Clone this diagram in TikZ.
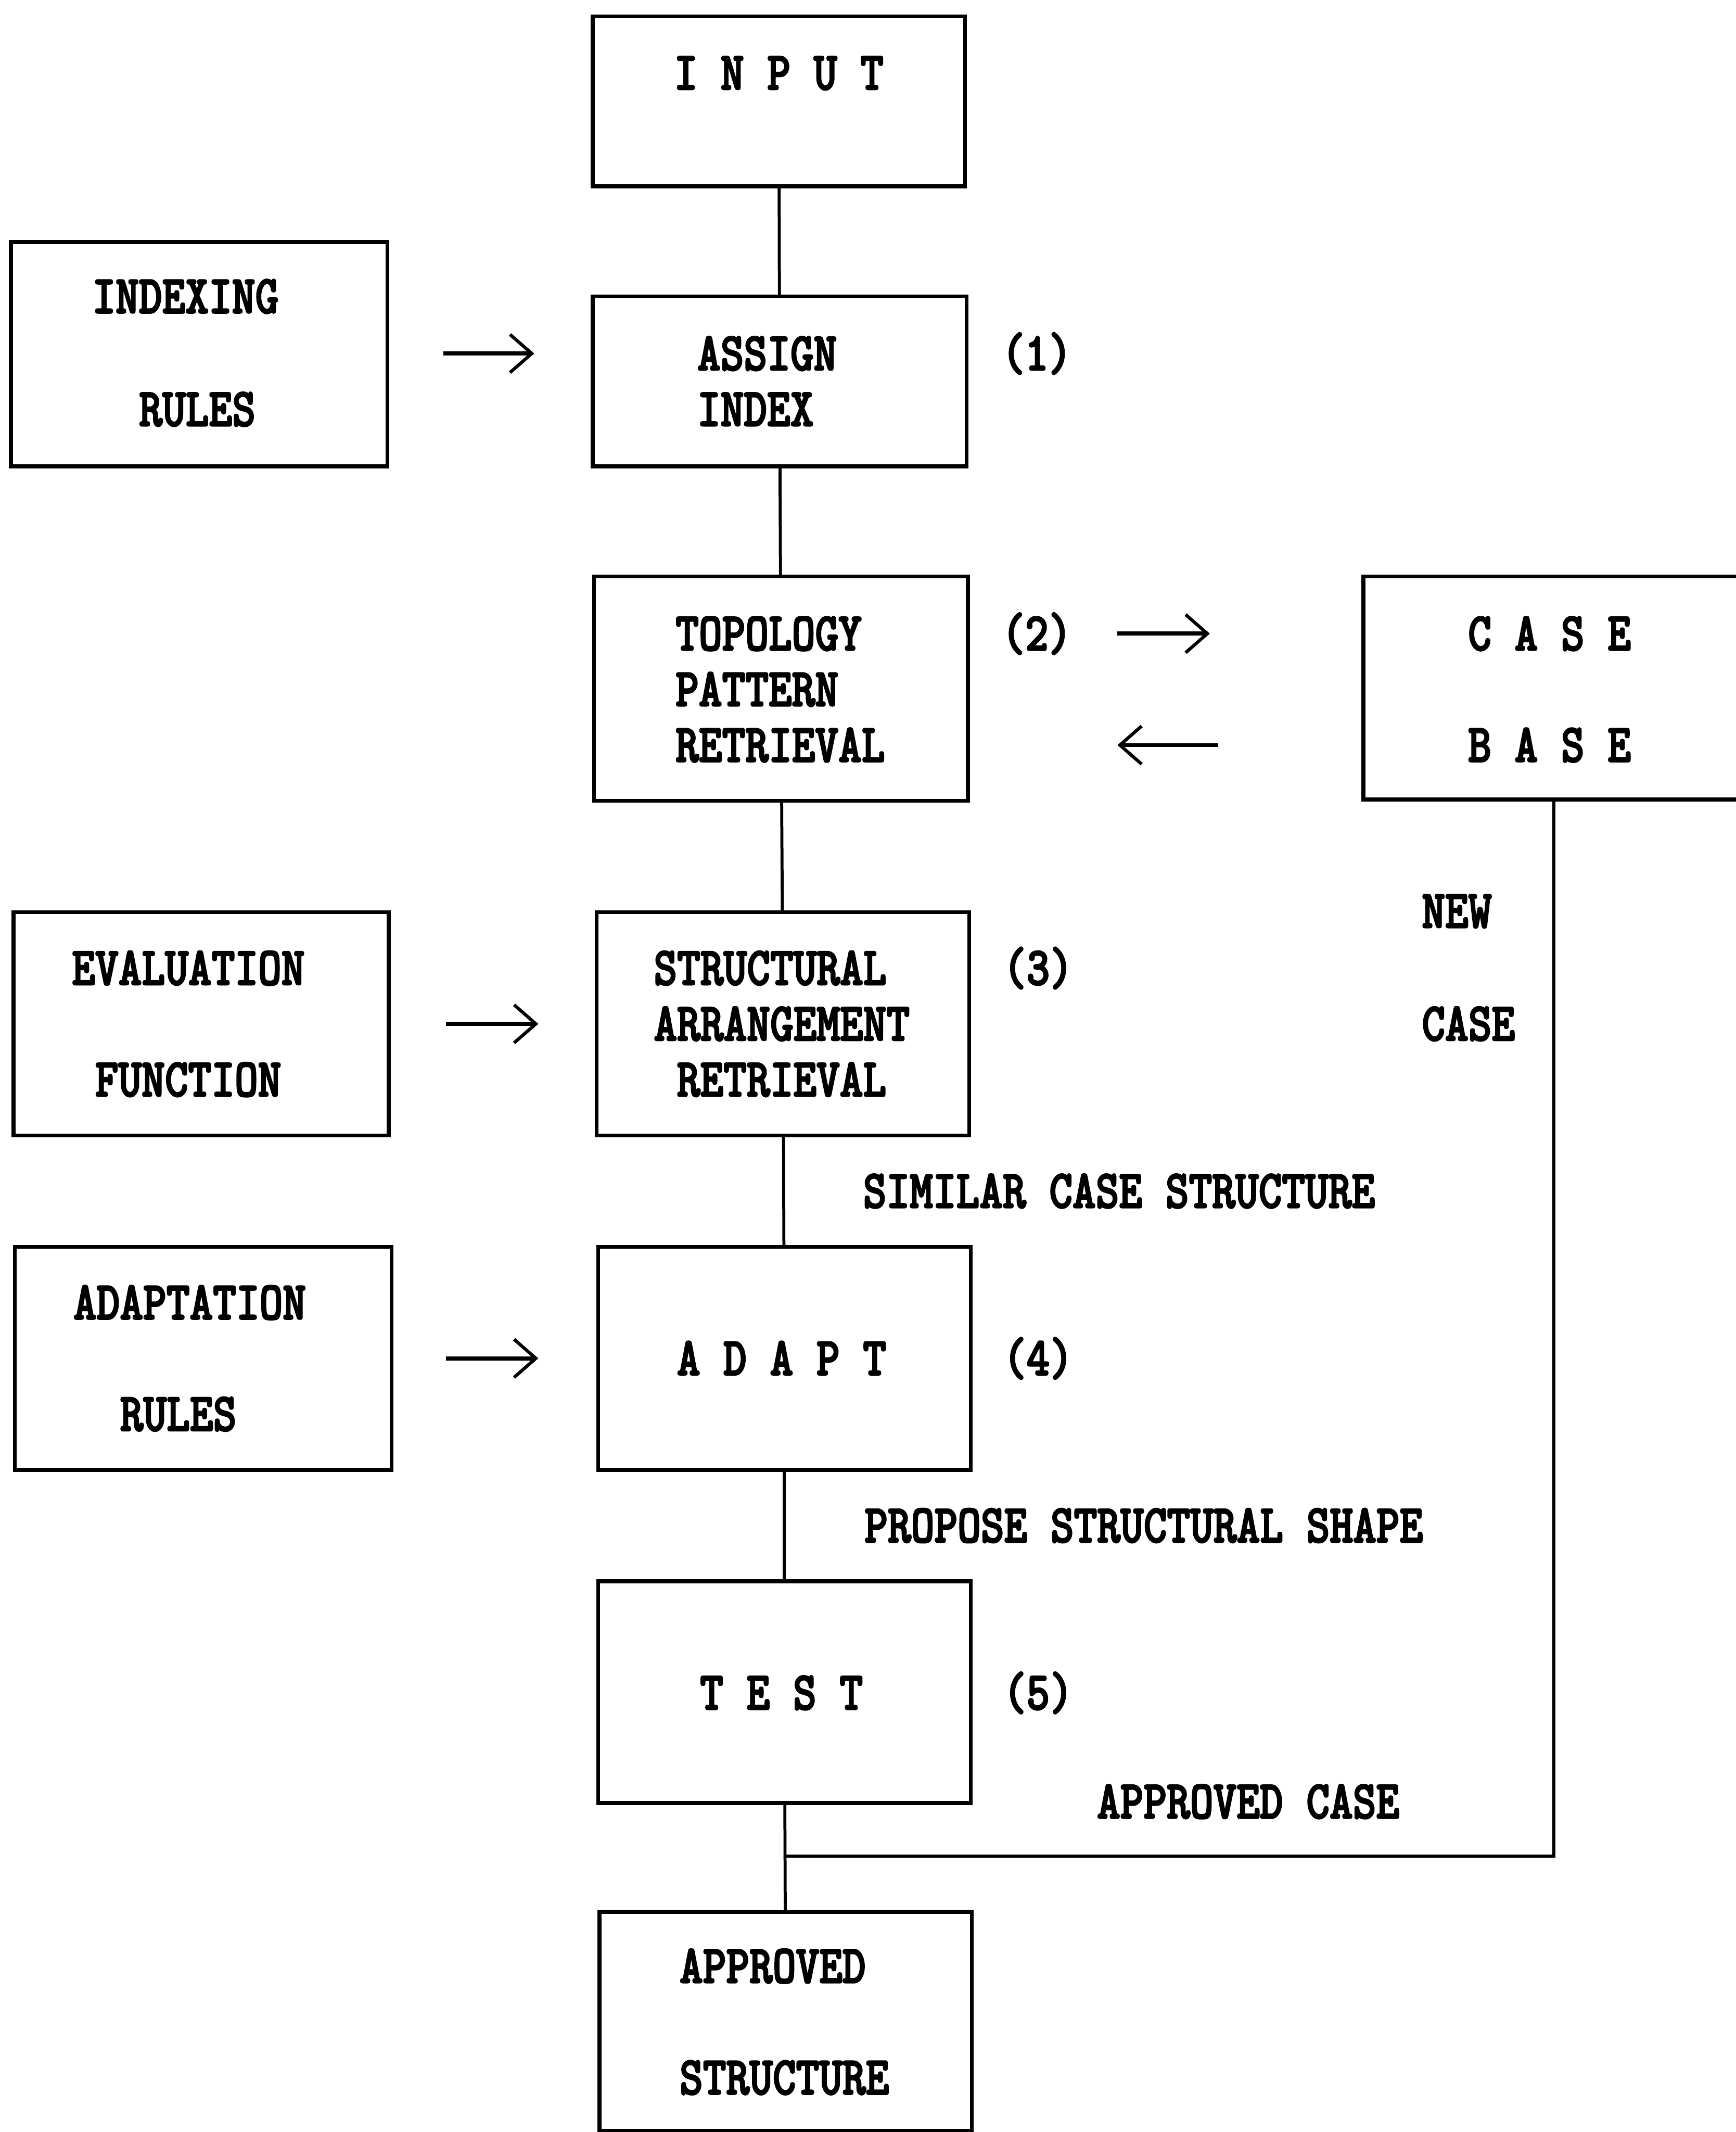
\documentclass[tikz,border=0pt]{standalone}
\usepackage{fontspec}
\newfontfamily\figmono{lmmonolt10-bold.otf}[FakeStretch=0.815, FakeBold=2.5]
\usetikzlibrary{arrows.meta}
\begin{document}
\begin{tikzpicture}[x=1pt, y=-1pt,
  box/.style={draw, line width=2.8pt, inner sep=0pt, outer sep=0pt},
  wire/.style={line width=2.2pt},
  feed/.style={line width=3pt, -{Straight Barb[length=16pt,width=28pt,line width=2.4pt]}},
  txt/.style={inner sep=0pt, outer sep=0pt, anchor=west, text height=24.5pt, text depth=0pt,
    font=\figmono\fontsize{40}{44}\selectfont},
]
\useasboundingbox (0,0) rectangle (1277,1568);

% main column of process boxes
\node[box, minimum width=274pt, minimum height=125pt] (inp)  at (573,74.5) {};
\node[box, minimum width=275pt, minimum height=125pt] (asg)  at (573.5,280.5) {};
\node[box, minimum width=275pt, minimum height=165pt] (topo) at (574.5,506.5) {};
\node[box, minimum width=274pt, minimum height=164pt] (sar)  at (576,753) {};
\node[box, minimum width=274pt, minimum height=164pt] (adp)  at (577,999) {};
\node[box, minimum width=274pt, minimum height=163pt] (tst)  at (577,1244.5) {};
\node[box, minimum width=274pt, minimum height=161pt] (apr)  at (578,1486.5) {};

% knowledge sources on the left
\node[box, minimum width=277pt, minimum height=165pt] (idx) at (146.5,260.5) {};
\node[box, minimum width=276pt, minimum height=164pt] (evf) at (148,753) {};
\node[box, minimum width=277pt, minimum height=164pt] (adr) at (149.5,999) {};

% case base, open towards the right margin
\node[inner sep=0pt, outer sep=0pt, minimum width=274pt, minimum height=164pt] (cb) at (1140,506) {};
\draw[line width=2.8pt] (cb.north east) -- (cb.north west) -- (cb.south west) -- (cb.south east);

% box texts
\node[txt] (t-inp) at (496,53.6) {I N P U T};
\node[txt] (t-asg1) at (513,260) {ASSIGN};
\node[txt] (t-asg2) at (513,301) {INDEX};
\node[txt] (t-idx1) at (68,218) {INDEXING};
\node[txt] (t-idx2) at (102.4,301) {RULES};
\node[txt] (t-top1) at (497,466) {TOPOLOGY};
\node[txt] (t-top2) at (497,507) {PATTERN};
\node[txt] (t-top3) at (497,548) {RETRIEVAL};
\node[txt] (t-cb1) at (1080,466) {C A S E};
\node[txt] (t-cb2) at (1080,548) {B A S E};
\node[txt] (t-evf1) at (53,712) {EVALUATION};
\node[txt] (t-evf2) at (70,794) {FUNCTION};
\node[txt] (t-sar1) at (481,712) {STRUCTURAL};
\node[txt] (t-sar2) at (481,753) {ARRANGEMENT};
\node[txt] (t-sar3) at (498,794) {RETRIEVAL};
\node[txt] (t-adr1) at (54,958) {ADAPTATION};
\node[txt] (t-adr2) at (88.4,1040) {RULES};
\node[txt] (t-adp) at (498,999) {A D A P T};
\node[txt] (t-tst) at (515,1245) {T E S T};
\node[txt] (t-apr1) at (500,1446) {APPROVED};
\node[txt] (t-apr2) at (500,1528) {STRUCTURE};

% step numbers
\node[txt] (n1) at (737,260) {(1)};
\node[txt] (n2) at (737,466) {(2)};
\node[txt] (n3) at (738,712) {(3)};
\node[txt] (n4) at (738,999) {(4)};
\node[txt] (n5) at (738,1245) {(5)};

% flow labels
\node[txt] (l-sim) at (635,876) {SIMILAR CASE STRUCTURE};
\node[txt] (l-pro) at (636,1122) {PROPOSE STRUCTURAL SHAPE};
\node[txt] (l-app) at (807,1325) {APPROVED CASE};
\node[txt] (l-new1) at (1046,670) {NEW};
\node[txt] (l-new2) at (1046,753) {CASE};

% vertical flow
\draw[wire] (inp) -- (asg);
\draw[wire] (asg) -- (topo);
\draw[wire] (topo) -- (sar);
\draw[wire] (sar) -- (adp);
\draw[wire] (adp) -- (tst);
\draw[wire] (tst) -- (apr);

% approved case fed back into the case base
\coordinate (jn) at (578,1365);
\coordinate (fbx) at (1143,0);
\draw[wire] (cb.south -| fbx) |- (jn);

% input arrows
\coordinate (a1s) at (326,260);  \coordinate (a1e) at (393,260);
\coordinate (a2s) at (822,466);  \coordinate (a2e) at (890,466);
\coordinate (a3s) at (896,548);  \coordinate (a3e) at (822,548);
\coordinate (a4s) at (328,753);  \coordinate (a4e) at (396,753);
\coordinate (a5s) at (328,999);  \coordinate (a5e) at (396,999);
\draw[feed] (a1s) -- (a1e);
\draw[feed] (a2s) -- (a2e);
\draw[feed] (a3s) -- (a3e);
\draw[feed] (a4s) -- (a4e);
\draw[feed] (a5s) -- (a5e);
\end{tikzpicture}
\end{document}
